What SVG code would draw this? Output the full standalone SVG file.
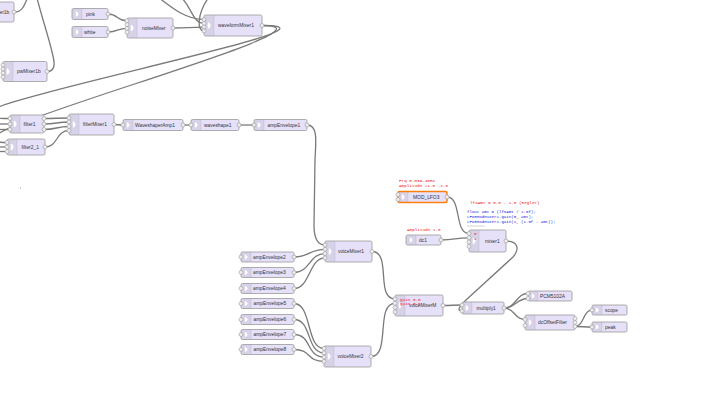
<svg xmlns="http://www.w3.org/2000/svg" width="712" height="400" viewBox="0 0 712 400">
<style>
.nb{fill:#E6E0F8;stroke:#999;stroke-width:0.8}
.sel{fill:#E6E0F8;stroke:#ff7f0e;stroke-width:1.5}
.ic{fill:#000;fill-opacity:0.06}
.sep{stroke:#000;stroke-opacity:0.12;stroke-width:0.6}
.icon{fill:#fff}
.lb{font-family:"Liberation Sans",Arial,sans-serif;font-size:4.9px;fill:#333}
.pt{fill:#eee;stroke:#999;stroke-width:0.6}
.ln{fill:none;stroke:#7a7a7a;stroke-width:1.3}
.red{font-family:"Liberation Mono",monospace;font-size:4.3px;fill:#e22}
.blue{font-family:"Liberation Mono",monospace;font-size:4.1px;fill:#2020e0}
</style>
<rect width="712" height="400" fill="#fff"/>
<g id="connectors">
<path class="ln" d="M14.5,12 C22,12 24,6 27,-1"/>
<path class="ln" d="M47,71.5 C55,71.5 55,64 53,56 C49,38 42,18 37,-2"/>
<path class="ln" d="M158,-3 C172,8 186,19.5 204,19.5"/>
<path class="ln" d="M181,-3 C192,8 193,23.3 204,23.3"/>
<path class="ln" d="M209,-3 C198,12 196,30.9 204,30.9"/>
<path class="ln" d="M108,14 C118,14 117,20.8 127,20.8"/>
<path class="ln" d="M108,32 C118,32 117,28.4 127,28.4"/>
<path class="ln" d="M173,28 C188,28 189,27.1 204,27.1"/>
<path class="ln" d="M262,25.5 C380,25.5 -130,118.5 10,118.5"/>
<path class="ln" d="M262,25.5 C362,25.5 -93,142.5 7,142.5"/>
<path class="ln" d="M-5,124 L10,124"/>
<path class="ln" d="M-5,129.5 L10,129.5"/>
<path class="ln" d="M-5,147 L7,147"/>
<path class="ln" d="M-5,151.5 L7,151.5"/>
<path class="ln" d="M44,118.5 C56,118.5 57,118 69,118"/>
<path class="ln" d="M44,124 C56,124 57,122 69,122"/>
<path class="ln" d="M44,129.5 C56,129.5 57,126.5 69,126.5"/>
<path class="ln" d="M45,147 C58,147 56,130.5 69,130.5"/>
<path class="ln" d="M114,124.5 C118,124.5 119,125 123,125"/>
<path class="ln" d="M183,125 L191,125"/>
<path class="ln" d="M239,125 L254,125"/>
<path class="ln" d="M307,125 C318,125 316,140 315,160 L314,225 C314,240 318,245 325,245"/>
<path class="ln" d="M294,257 C310,257 309,249.3 325,249.3"/>
<path class="ln" d="M294,272.5 C310,272.5 309,253.6 325,253.6"/>
<path class="ln" d="M294,288.5 C310,288.5 309,257.9 325,257.9"/>
<path class="ln" d="M294,303.5 C312,303.5 306,348.5 324,348.5"/>
<path class="ln" d="M294,319.5 C312,319.5 306,352.8 324,352.8"/>
<path class="ln" d="M294,334.5 C312,334.5 306,357.1 324,357.1"/>
<path class="ln" d="M294,349.5 C312,349.5 306,361.4 324,361.4"/>
<path class="ln" d="M372,251.5 C392,251.5 375,299 395,299"/>
<path class="ln" d="M371,356.5 C391,356.5 375,303.3 395,303.3"/>
<path class="ln" d="M443,305.5 C452,305.5 453,305 462,305"/>
<path class="ln" d="M506,241 C518,241 520,249 513,257 L466,300 C460,306 456,311 462,311"/>
<path class="ln" d="M447,197 C462,197 454,233.5 469,233.5"/>
<path class="ln" d="M441,240 C455,240 455,237.8 469,237.8"/>
<path class="ln" d="M504,308 C516,308 516,293.5 528,293.5"/>
<path class="ln" d="M504,308 C516,308 516,298.5 528,298.5"/>
<path class="ln" d="M504,308 C515,308 514,319.5 525,319.5"/>
<path class="ln" d="M575,326.5 C584,326.5 583,310 592,310"/>
<path class="ln" d="M575,326.5 C584,326.5 583,327 592,327"/>
</g>
<g id="er1b"><rect class="nb" x="-30" y="2" width="44" height="20" rx="1.5"/><text class="lb" x="-0.5" y="13.7">er1b</text><circle class="pt" cx="14" cy="12" r="2"/></g>
<g id="pink"><rect class="nb" x="72" y="8.5" width="36" height="11" rx="1.5"/><rect class="ic" x="72.4" y="8.9" width="9.6" height="10.2"/><line class="sep" x1="82" y1="8.9" x2="82" y2="19.1"/><path class="icon" d="M75.8,11.5h1.2l1.8,2.5l-1.8,2.5h-1.2z"/><text class="lb" x="86" y="15.7">pink</text><circle class="pt" cx="108" cy="14" r="2"/></g>
<g id="white"><rect class="nb" x="72" y="26.5" width="36" height="11" rx="1.5"/><rect class="ic" x="72.4" y="26.9" width="9.6" height="10.2"/><line class="sep" x1="82" y1="26.9" x2="82" y2="37.1"/><path class="icon" d="M75.8,29.5h1.2l1.8,2.5l-1.8,2.5h-1.2z"/><text class="lb" x="84" y="33.7">white</text><circle class="pt" cx="108" cy="32" r="2"/></g>
<g id="noiseMixer"><rect class="nb" x="127" y="18" width="46" height="20" rx="1.5"/><rect class="ic" x="127.4" y="18.4" width="9.6" height="19.2"/><line class="sep" x1="137" y1="18.4" x2="137" y2="37.6"/><path class="icon" d="M130.8,25h1.2l1.8,3l-1.8,3h-1.2z"/><text class="lb" x="142" y="29.7">noiseMixer</text><circle class="pt" cx="127" cy="20.8" r="2"/><circle class="pt" cx="127" cy="24.6" r="2"/><circle class="pt" cx="127" cy="28.4" r="2"/><circle class="pt" cx="127" cy="32.2" r="2"/><circle class="pt" cx="173" cy="28" r="2"/></g>
<g id="waveformMixer1"><rect class="nb" x="204" y="15" width="58" height="21" rx="1.5"/><rect class="ic" x="204.4" y="15.4" width="9.6" height="20.2"/><line class="sep" x1="214" y1="15.4" x2="214" y2="35.6"/><path class="icon" d="M207.8,22.5h1.2l1.8,3l-1.8,3h-1.2z"/><text class="lb" x="218" y="27.2">waveformMixer1</text><circle class="pt" cx="204" cy="19.5" r="2"/><circle class="pt" cx="204" cy="23.3" r="2"/><circle class="pt" cx="204" cy="27.1" r="2"/><circle class="pt" cx="204" cy="30.9" r="2"/><circle class="pt" cx="262" cy="25.5" r="2"/></g>
<g id="pwMixer1b"><rect class="nb" x="3" y="61.5" width="44" height="20" rx="1.5"/><rect class="ic" x="3.4" y="61.9" width="9.6" height="19.2"/><line class="sep" x1="13" y1="61.9" x2="13" y2="81.1"/><path class="icon" d="M6.8,68.5h1.2l1.8,3l-1.8,3h-1.2z"/><text class="lb" x="17" y="73.2">pwMixer1b</text><circle class="pt" cx="3" cy="65" r="2"/><circle class="pt" cx="3" cy="69" r="2"/><circle class="pt" cx="3" cy="73" r="2"/><circle class="pt" cx="3" cy="77" r="2"/><circle class="pt" cx="47" cy="71.5" r="2"/></g>
<g id="filter1"><rect class="nb" x="10" y="115" width="34" height="18" rx="1.5"/><rect class="ic" x="10.4" y="115.4" width="9.6" height="17.2"/><line class="sep" x1="20" y1="115.4" x2="20" y2="132.6"/><path class="icon" d="M13.8,121h1.2l1.8,3l-1.8,3h-1.2z"/><text class="lb" x="23.5" y="125.7">filter1</text><circle class="pt" cx="10" cy="118.5" r="2"/><circle class="pt" cx="10" cy="124" r="2"/><circle class="pt" cx="10" cy="129.5" r="2"/><circle class="pt" cx="44" cy="118.5" r="2"/><circle class="pt" cx="44" cy="124" r="2"/><circle class="pt" cx="44" cy="129.5" r="2"/></g>
<g id="filter2_1"><rect class="nb" x="7" y="139" width="38" height="16" rx="1.5"/><rect class="ic" x="7.4" y="139.4" width="9.6" height="15.2"/><line class="sep" x1="17" y1="139.4" x2="17" y2="154.6"/><path class="icon" d="M10.8,144h1.2l1.8,3l-1.8,3h-1.2z"/><text class="lb" x="21.5" y="148.7">filter2_1</text><circle class="pt" cx="7" cy="142.5" r="2"/><circle class="pt" cx="7" cy="147" r="2"/><circle class="pt" cx="7" cy="151.5" r="2"/><circle class="pt" cx="45" cy="147" r="2"/></g>
<g id="filterMixer1"><rect class="nb" x="69" y="114" width="45" height="21" rx="1.5"/><rect class="ic" x="69.4" y="114.4" width="9.6" height="20.2"/><line class="sep" x1="79" y1="114.4" x2="79" y2="134.6"/><path class="icon" d="M72.8,121.5h1.2l1.8,3l-1.8,3h-1.2z"/><text class="lb" x="83" y="126.2">filterMixer1</text><circle class="pt" cx="69" cy="118" r="2"/><circle class="pt" cx="69" cy="122" r="2"/><circle class="pt" cx="69" cy="126.5" r="2"/><circle class="pt" cx="69" cy="130.5" r="2"/><circle class="pt" cx="114" cy="124.5" r="2"/></g>
<g id="WaveshaperAmp1"><rect class="nb" x="123" y="119.5" width="60" height="11" rx="1.5"/><rect class="ic" x="123.4" y="119.9" width="9.6" height="10.2"/><line class="sep" x1="133" y1="119.9" x2="133" y2="130.1"/><path class="icon" d="M126.8,122.5h1.2l1.8,2.5l-1.8,2.5h-1.2z"/><text class="lb" x="135" y="126.7">WaveshaperAmp1</text><circle class="pt" cx="123" cy="125" r="2"/><circle class="pt" cx="183" cy="125" r="2"/></g>
<g id="waveshape1"><rect class="nb" x="191" y="119.5" width="48" height="11" rx="1.5"/><rect class="ic" x="191.4" y="119.9" width="9.6" height="10.2"/><line class="sep" x1="201" y1="119.9" x2="201" y2="130.1"/><path class="icon" d="M194.8,122.5h1.2l1.8,2.5l-1.8,2.5h-1.2z"/><text class="lb" x="204" y="126.7">waveshape1</text><circle class="pt" cx="191" cy="125" r="2"/><circle class="pt" cx="239" cy="125" r="2"/></g>
<g id="ampEnvelope1"><rect class="nb" x="254" y="119.5" width="53" height="11" rx="1.5"/><rect class="ic" x="254.4" y="119.9" width="9.6" height="10.2"/><line class="sep" x1="264" y1="119.9" x2="264" y2="130.1"/><path class="icon" d="M257.8,122.5h1.2l1.8,2.5l-1.8,2.5h-1.2z"/><text class="lb" x="267.5" y="126.7">ampEnvelope1</text><circle class="pt" cx="254" cy="125" r="2"/><circle class="pt" cx="307" cy="125" r="2"/></g>
<g id="ampEnvelope2"><rect class="nb" x="241" y="252" width="53" height="10" rx="1.5"/><rect class="ic" x="241.4" y="252.4" width="9.6" height="9.2"/><line class="sep" x1="251" y1="252.4" x2="251" y2="261.6"/><path class="icon" d="M244.8,254.7h1.2l1.8,2.3l-1.8,2.3h-1.2z"/><text class="lb" x="253" y="258.7">ampEnvelope2</text><circle class="pt" cx="241" cy="257" r="2"/><circle class="pt" cx="294" cy="257" r="2"/></g>
<g id="ampEnvelope3"><rect class="nb" x="241" y="267.5" width="53" height="10" rx="1.5"/><rect class="ic" x="241.4" y="267.9" width="9.6" height="9.2"/><line class="sep" x1="251" y1="267.9" x2="251" y2="277.1"/><path class="icon" d="M244.8,270.2h1.2l1.8,2.3l-1.8,2.3h-1.2z"/><text class="lb" x="253" y="274.2">ampEnvelope3</text><circle class="pt" cx="241" cy="272.5" r="2"/><circle class="pt" cx="294" cy="272.5" r="2"/></g>
<g id="ampEnvelope4"><rect class="nb" x="241" y="283.5" width="53" height="10" rx="1.5"/><rect class="ic" x="241.4" y="283.9" width="9.6" height="9.2"/><line class="sep" x1="251" y1="283.9" x2="251" y2="293.1"/><path class="icon" d="M244.8,286.2h1.2l1.8,2.3l-1.8,2.3h-1.2z"/><text class="lb" x="253" y="290.2">ampEnvelope4</text><circle class="pt" cx="241" cy="288.5" r="2"/><circle class="pt" cx="294" cy="288.5" r="2"/></g>
<g id="ampEnvelope5"><rect class="nb" x="241" y="298.5" width="53" height="10" rx="1.5"/><rect class="ic" x="241.4" y="298.9" width="9.6" height="9.2"/><line class="sep" x1="251" y1="298.9" x2="251" y2="308.1"/><path class="icon" d="M244.8,301.2h1.2l1.8,2.3l-1.8,2.3h-1.2z"/><text class="lb" x="253.5" y="305.2">ampEnvelope5</text><circle class="pt" cx="241" cy="303.5" r="2"/><circle class="pt" cx="294" cy="303.5" r="2"/></g>
<g id="ampEnvelope6"><rect class="nb" x="241" y="314.5" width="53" height="10" rx="1.5"/><rect class="ic" x="241.4" y="314.9" width="9.6" height="9.2"/><line class="sep" x1="251" y1="314.9" x2="251" y2="324.1"/><path class="icon" d="M244.8,317.2h1.2l1.8,2.3l-1.8,2.3h-1.2z"/><text class="lb" x="253.5" y="321.2">ampEnvelope6</text><circle class="pt" cx="241" cy="319.5" r="2"/><circle class="pt" cx="294" cy="319.5" r="2"/></g>
<g id="ampEnvelope7"><rect class="nb" x="241" y="329.5" width="53" height="10" rx="1.5"/><rect class="ic" x="241.4" y="329.9" width="9.6" height="9.2"/><line class="sep" x1="251" y1="329.9" x2="251" y2="339.1"/><path class="icon" d="M244.8,332.2h1.2l1.8,2.3l-1.8,2.3h-1.2z"/><text class="lb" x="253.5" y="336.2">ampEnvelope7</text><circle class="pt" cx="241" cy="334.5" r="2"/><circle class="pt" cx="294" cy="334.5" r="2"/></g>
<g id="ampEnvelope8"><rect class="nb" x="241" y="344.5" width="53" height="10" rx="1.5"/><rect class="ic" x="241.4" y="344.9" width="9.6" height="9.2"/><line class="sep" x1="251" y1="344.9" x2="251" y2="354.1"/><path class="icon" d="M244.8,347.2h1.2l1.8,2.3l-1.8,2.3h-1.2z"/><text class="lb" x="253.5" y="351.2">ampEnvelope8</text><circle class="pt" cx="241" cy="349.5" r="2"/><circle class="pt" cx="294" cy="349.5" r="2"/></g>
<g id="voiceMixer1"><rect class="nb" x="325" y="241" width="47" height="21" rx="1.5"/><rect class="ic" x="325.4" y="241.4" width="9.6" height="20.2"/><line class="sep" x1="335" y1="241.4" x2="335" y2="261.6"/><path class="icon" d="M328.8,248.5h1.2l1.8,3l-1.8,3h-1.2z"/><text class="lb" x="338" y="253.2">voiceMixer1</text><circle class="pt" cx="325" cy="245" r="2"/><circle class="pt" cx="325" cy="249.3" r="2"/><circle class="pt" cx="325" cy="253.6" r="2"/><circle class="pt" cx="325" cy="257.9" r="2"/><circle class="pt" cx="372" cy="251.5" r="2"/></g>
<g id="voiceMixer2"><rect class="nb" x="324" y="346" width="47" height="21" rx="1.5"/><rect class="ic" x="324.4" y="346.4" width="9.6" height="20.2"/><line class="sep" x1="334" y1="346.4" x2="334" y2="366.6"/><path class="icon" d="M327.8,353.5h1.2l1.8,3l-1.8,3h-1.2z"/><text class="lb" x="337.5" y="358.2">voiceMixer2</text><circle class="pt" cx="324" cy="348.5" r="2"/><circle class="pt" cx="324" cy="352.8" r="2"/><circle class="pt" cx="324" cy="357.1" r="2"/><circle class="pt" cx="324" cy="361.4" r="2"/><circle class="pt" cx="371" cy="356.5" r="2"/></g>
<g id="voiceMixerM"><rect class="nb" x="395" y="295" width="48" height="21" rx="1.5"/><rect class="ic" x="395.4" y="295.4" width="9.6" height="20.2"/><line class="sep" x1="405" y1="295.4" x2="405" y2="315.6"/><path class="icon" d="M398.8,302.5h1.2l1.8,3l-1.8,3h-1.2z"/><text class="lb" x="409" y="307.4">voiceMixerM</text><text class="red" x="400" y="300.5">gain 0.5</text><text class="red" x="400" y="305.2">gain 0.5</text><circle class="pt" cx="395" cy="299" r="2"/><circle class="pt" cx="395" cy="303.3" r="2"/><circle class="pt" cx="395" cy="307.6" r="2"/><circle class="pt" cx="395" cy="311.9" r="2"/><circle class="pt" cx="443" cy="305.5" r="2"/></g>
<g id="multiply1"><rect class="nb" x="462" y="302" width="42" height="12" rx="1.5"/><rect class="ic" x="462.4" y="302.4" width="9.6" height="11.2"/><line class="sep" x1="472" y1="302.4" x2="472" y2="313.6"/><path class="icon" d="M465.8,305.5h1.2l1.8,2.5l-1.8,2.5h-1.2z"/><text class="lb" x="476.5" y="309.7">multiply1</text><circle class="pt" cx="462" cy="305" r="2"/><circle class="pt" cx="462" cy="311" r="2"/><circle class="pt" cx="504" cy="308" r="2"/></g>
<g id="PCM5102A"><rect class="nb" x="528" y="291" width="44" height="10" rx="1.5"/><rect class="ic" x="528.4" y="291.4" width="9.6" height="9.2"/><line class="sep" x1="538" y1="291.4" x2="538" y2="300.6"/><path class="icon" d="M531.8,293.7h1.2l1.8,2.3l-1.8,2.3h-1.2z"/><text class="lb" x="540" y="297.7">PCM5102A</text><circle class="pt" cx="528" cy="293.5" r="2"/><circle class="pt" cx="528" cy="298.5" r="2"/></g>
<g id="dcOffsetFilter"><rect class="nb" x="525" y="315" width="50" height="15" rx="1.5"/><rect class="ic" x="525.4" y="315.4" width="9.6" height="14.2"/><line class="sep" x1="535" y1="315.4" x2="535" y2="329.6"/><path class="icon" d="M528.8,319.7h1.2l1.8,2.8l-1.8,2.8h-1.2z"/><text class="lb" x="538" y="324.2">dcOffsetFilter</text><circle class="pt" cx="525" cy="319.5" r="2"/><circle class="pt" cx="525" cy="325.5" r="2"/><circle class="pt" cx="575" cy="318.5" r="2"/><circle class="pt" cx="575" cy="322.5" r="2"/><circle class="pt" cx="575" cy="326.5" r="2"/></g>
<g id="scope"><rect class="nb" x="592" y="305" width="35" height="10" rx="1.5"/><rect class="ic" x="592.4" y="305.4" width="9.6" height="9.2"/><line class="sep" x1="602" y1="305.4" x2="602" y2="314.6"/><path class="icon" d="M595.8,307.7h1.2l1.8,2.3l-1.8,2.3h-1.2z"/><text class="lb" x="605" y="311.7">scope</text><circle class="pt" cx="592" cy="310" r="2"/></g>
<g id="peak"><rect class="nb" x="592" y="322" width="35" height="10" rx="1.5"/><rect class="ic" x="592.4" y="322.4" width="9.6" height="9.2"/><line class="sep" x1="602" y1="322.4" x2="602" y2="331.6"/><path class="icon" d="M595.8,324.7h1.2l1.8,2.3l-1.8,2.3h-1.2z"/><text class="lb" x="605" y="328.7">peak</text><circle class="pt" cx="592" cy="327" r="2"/></g>
<g id="MOD_LFO3"><text class="red" x="399" y="181.5">Frq 0.039-40Hz</text><text class="red" x="399" y="186.5">Amplitude +1.0 -1.0</text><rect class="sel" x="398" y="191.5" width="49" height="11" rx="1.5"/><rect class="ic" x="398.4" y="191.9" width="9.6" height="10.2"/><line class="sep" x1="408" y1="191.9" x2="408" y2="202.1"/><path class="icon" d="M401.8,194.5h1.2l1.8,2.5l-1.8,2.5h-1.2z"/><text class="lb" x="413" y="198.7">MOD_LFO3</text><circle class="pt" cx="398" cy="194.5" r="2"/><circle class="pt" cx="398" cy="199.5" r="2"/><circle class="pt" cx="447" cy="197" r="2"/></g>
<g id="dc1"><text class="red" x="407" y="231">Amplitude 1.0</text><rect class="nb" x="406" y="235" width="35" height="10" rx="1.5"/><rect class="ic" x="406.4" y="235.4" width="9.6" height="9.2"/><line class="sep" x1="416" y1="235.4" x2="416" y2="244.6"/><path class="icon" d="M409.8,237.7h1.2l1.8,2.3l-1.8,2.3h-1.2z"/><text class="lb" x="419" y="241.7">dc1</text><circle class="pt" cx="441" cy="240" r="2"/></g>
<g id="mixer1"><rect class="nb" x="469" y="230" width="37" height="22" rx="1.5"/><rect class="ic" x="469.4" y="230.4" width="9.6" height="21.2"/><line class="sep" x1="479" y1="230.4" x2="479" y2="251.6"/><path class="icon" d="M472.8,238h1.2l1.8,3l-1.8,3h-1.2z"/><text class="red" x="474" y="234.8">0</text><text class="red" x="474" y="239.6">1</text><text class="lb" x="485" y="242.7">mixer1</text><circle class="pt" cx="469" cy="233.5" r="2"/><circle class="pt" cx="469" cy="237.8" r="2"/><circle class="pt" cx="469" cy="242.1" r="2"/><circle class="pt" cx="469" cy="246.4" r="2"/><circle class="pt" cx="506" cy="241" r="2"/></g>
<g id="comment">
<text class="red" x="470" y="203.5">lfoAmt = 0.0 - 1.0 (Regler)</text>
<text class="blue" x="467" y="213">float amt = (lfoAmt / 2.0f);</text>
<text class="blue" x="467" y="218">LFO3ModMixer1.gain(0, amt);</text>
<text class="blue" x="467" y="223">LFO3ModMixer1.gain(1, (1.0f - amt));</text>
<line x1="467" y1="226" x2="485" y2="226" stroke="#bbb" stroke-width="0.6"/>
</g>
<rect x="20" y="187.5" width="1" height="1" fill="#999"/>
</svg>
